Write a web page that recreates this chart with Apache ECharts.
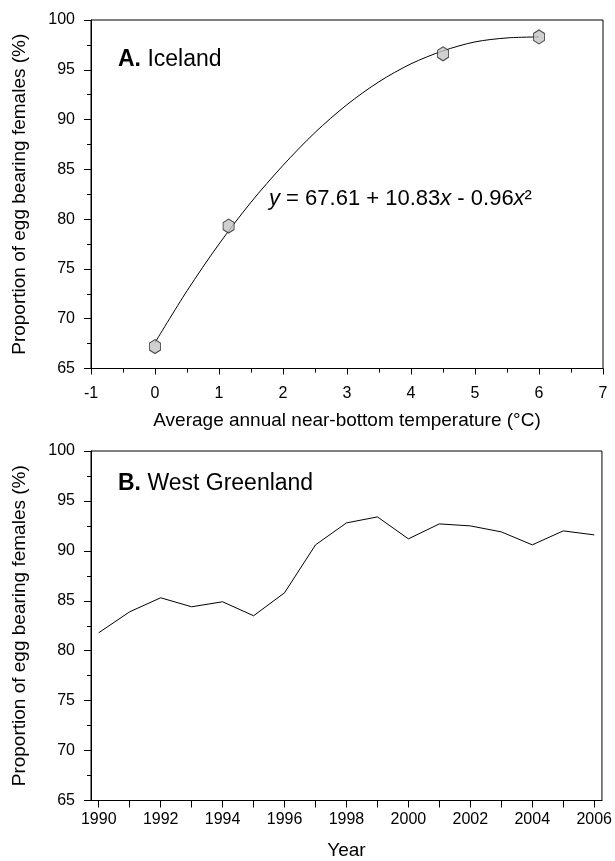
<!DOCTYPE html>
<html>
<head>
<meta charset="utf-8">
<script src="https://cdn.jsdelivr.net/npm/echarts@6/dist/echarts.min.js"></script>
<style>
  html, body { margin: 0; padding: 0; background: #fff; }
  #chart { width: 615px; height: 861px; }
</style>
</head>
<body>
<div id="chart"></div>
<script>
// ---- Data ----
// Panel A: Iceland
const tempX = [0, 1.15, 4.5, 6.0];
const icelandPct = [67.2, 79.3, 96.6, 98.3];
// fitted curve
const fitX = [0, 0.5, 1, 1.5, 2, 2.5, 3, 3.5, 4, 4.5, 5, 5.5, 6];
const fitY = [67.6, 72.8, 77.5, 81.7, 85.4, 88.7, 91.5, 93.8, 95.6, 96.9, 97.8, 98.2, 98.3];
const tempTicks = [-1, 0, 1, 2, 3, 4, 5, 6, 7];

// Panel B: West Greenland
const years = [1990, 1991, 1992, 1993, 1994, 1995, 1996, 1997, 1998, 1999, 2000, 2001, 2002, 2003, 2004, 2005, 2006];
const greenlandPct = [81.8, 83.9, 85.3, 84.4, 84.9, 83.5, 85.8, 90.6, 92.8, 93.4, 91.2, 92.7, 92.5, 91.9, 90.6, 92.0, 91.6];
const yearLabels = [1990, 1992, 1994, 1996, 1998, 2000, 2002, 2004, 2006];

const pctTicks = [65, 70, 75, 80, 85, 90, 95, 100];

const FONT = '"Liberation Sans", Arial, Helvetica, sans-serif';
const yName = 'Proportion of egg bearing females (%)';

const chart = echarts.init(document.getElementById('chart'), null, { renderer: 'canvas' });

function yAxisCfg(gridIndex) {
  return {
    gridIndex: gridIndex,
    type: 'value',
    min: pctTicks[0],
    max: pctTicks[pctTicks.length - 1],
    interval: 5,
    name: yName,
    nameLocation: 'middle',
    nameGap: 62,
    nameTextStyle: { fontFamily: FONT, fontSize: 19, color: '#000' },
    axisLine: { show: true, onZero: false, lineStyle: { color: '#000', width: 1 } },
    axisTick: { show: true, inside: false, length: 7, lineStyle: { color: '#000' } },
    minorTick: { show: true, splitNumber: 2, length: 4, lineStyle: { color: '#000' } },
    axisLabel: { fontFamily: FONT, fontSize: 16, color: '#000', margin: 16 },
    splitLine: { show: false },
    minorSplitLine: { show: false }
  };
}

const hexagon = 'path://M0,-1 L0.866,-0.5 L0.866,0.5 L0,1 L-0.866,0.5 L-0.866,-0.5 Z';

const option = {
  backgroundColor: '#fff',
  animation: false,
  title: [
    {
      text: '{b|A.} Iceland',
      left: 118, top: 48, padding: 0,
      textStyle: {
        fontFamily: FONT, fontSize: 23, fontWeight: 'normal', color: '#000',
        rich: { b: { fontFamily: FONT, fontSize: 23, fontWeight: 'bold', color: '#000' } }
      }
    },
    {
      text: '{i|y} = 67.61 + 10.83{i|x} - 0.96{i|x}²',
      left: 269, top: 188, padding: 0,
      textStyle: {
        fontFamily: FONT, fontSize: 22, fontWeight: 'normal', color: '#000',
        rich: { i: { fontFamily: FONT, fontSize: 22, fontStyle: 'italic', color: '#000' } }
      }
    },
    {
      text: '{b|B.} West Greenland',
      left: 118, top: 472, padding: 0,
      textStyle: {
        fontFamily: FONT, fontSize: 23, fontWeight: 'normal', color: '#000',
        rich: { b: { fontFamily: FONT, fontSize: 23, fontWeight: 'bold', color: '#000' } }
      }
    }
  ],
  grid: [
    { left: 91, right: 12, top: 20, height: 348.5, show: true, borderColor: '#000', borderWidth: 1, backgroundColor: 'transparent' },
    { left: 91, right: 12, top: 451, height: 349.5, show: true, borderColor: '#000', borderWidth: 1, backgroundColor: 'transparent' }
  ],
  xAxis: [
    {
      gridIndex: 0,
      type: 'value',
      min: tempTicks[0],
      max: tempTicks[tempTicks.length - 1],
      interval: 1,
      name: 'Average annual near-bottom temperature (°C)',
      nameLocation: 'middle',
      nameGap: 52,
      nameTextStyle: { fontFamily: FONT, fontSize: 19, color: '#000', verticalAlign: 'middle' },
      axisLine: { show: true, onZero: false, lineStyle: { color: '#000', width: 1 } },
      axisTick: { show: true, inside: false, length: 6, lineStyle: { color: '#000' } },
      minorTick: { show: true, splitNumber: 2, length: 4, lineStyle: { color: '#000' } },
      axisLabel: { fontFamily: FONT, fontSize: 16, color: '#000', margin: 17 },
      splitLine: { show: false },
      minorSplitLine: { show: false }
    },
    {
      gridIndex: 1,
      type: 'value',
      min: years[0] - 0.25,
      max: years[years.length - 1] + 0.25,
      name: 'Year',
      nameLocation: 'middle',
      nameGap: 50,
      nameTextStyle: { fontFamily: FONT, fontSize: 19, color: '#000', verticalAlign: 'middle' },
      axisLine: { show: true, onZero: false, lineStyle: { color: '#000', width: 1 } },
      axisTick: { show: true, inside: false, length: 7, customValues: years, lineStyle: { color: '#000' } },
      axisLabel: {
        fontFamily: FONT, fontSize: 16, color: '#000', margin: 11,
        customValues: yearLabels,
        formatter: function (v) { return String(v); }
      },
      splitLine: { show: false }
    }
  ],
  yAxis: [yAxisCfg(0), yAxisCfg(1)],
  series: [
    {
      name: 'fit',
      type: 'line',
      xAxisIndex: 0, yAxisIndex: 0,
      data: fitX.map((x, i) => [x, fitY[i]]),
      smooth: 0.3,
      showSymbol: false,
      symbol: 'none',
      lineStyle: { color: '#000', width: 1 },
      z: 2
    },
    {
      name: 'Iceland',
      type: 'scatter',
      xAxisIndex: 0, yAxisIndex: 0,
      data: tempX.map((x, i) => [x, icelandPct[i]]),
      symbol: hexagon,
      symbolSize: [11, 14],
      itemStyle: { color: '#c4c4c4', borderColor: '#222', borderWidth: 1 },
      z: 3
    },
    {
      name: 'West Greenland',
      type: 'line',
      xAxisIndex: 1, yAxisIndex: 1,
      data: years.map((y, i) => [y, greenlandPct[i]]),
      showSymbol: false,
      symbol: 'none',
      lineStyle: { color: '#000', width: 1 }
    }
  ]
};

chart.setOption(option);
</script>
</body>
</html>
